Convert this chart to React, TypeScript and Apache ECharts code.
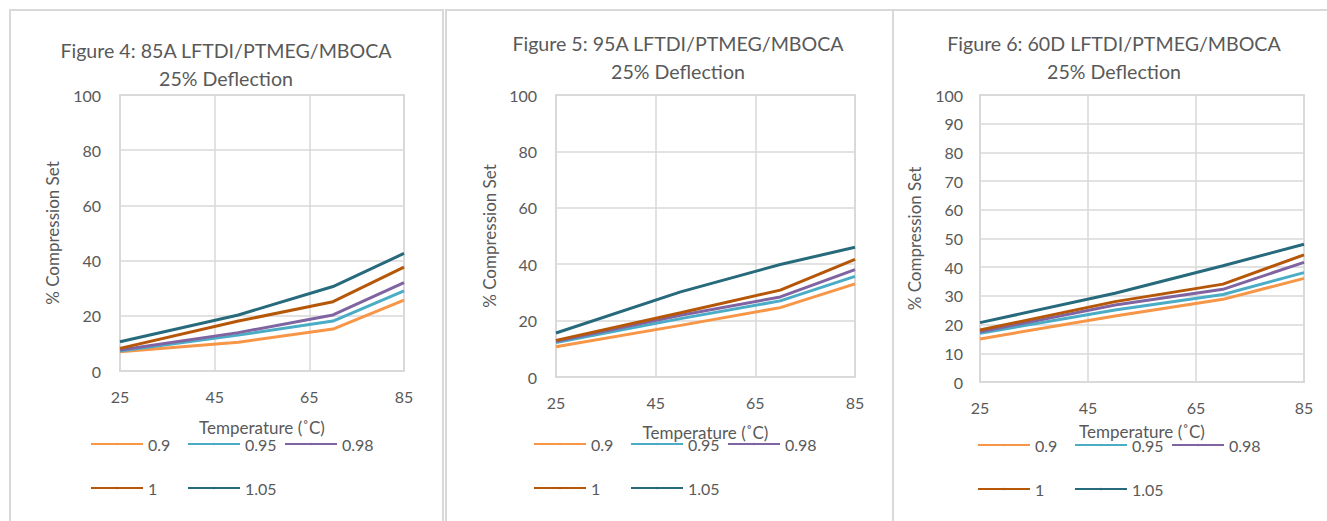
import React, { useEffect, useRef } from "react";
import * as echarts from "echarts";

const seriesNames = ["0.9", "0.95", "0.98", "1", "1.05"];
const colors = ["#F79646", "#4BACC6", "#8064A2", "#B65708", "#276A7C"];
const temperatures = [25, 50, 70, 85];

const titles = [
  "Figure 4: 85A LFTDI/PTMEG/MBOCA\n25% Deflection",
  "Figure 5: 95A LFTDI/PTMEG/MBOCA\n25% Deflection",
  "Figure 6: 60D LFTDI/PTMEG/MBOCA\n25% Deflection",
];

// values per chart, per series (0.9, 0.95, 0.98, 1, 1.05) at 25, 50, 70, 85 °C
const fig4 = [
  [7.0, 10.4, 15.2, 25.7],
  [7.2, 13.0, 18.1, 29.0],
  [7.6, 13.9, 20.3, 32.0],
  [8.2, 18.1, 25.1, 37.6],
  [10.6, 20.3, 30.6, 42.6],
];
const fig5 = [
  [10.7, 18.3, 24.6, 33.0],
  [12.2, 20.7, 27.0, 35.7],
  [12.7, 21.9, 28.4, 38.1],
  [13.0, 22.8, 30.8, 41.7],
  [15.6, 30.2, 39.9, 46.0],
];
const fig6 = [
  [15.0, 23.0, 28.8, 36.1],
  [17.0, 25.1, 30.5, 38.1],
  [17.5, 26.8, 32.3, 41.7],
  [18.1, 28.0, 34.1, 44.3],
  [20.7, 30.9, 40.5, 48.0],
];
const yIntervals = [20, 20, 10];
const xAxisName = "Temperature (˚C)";
const yAxisName = "% Compression Set";

const FONT = "Lato, 'Open Sans', sans-serif";
const TXT = "#595959";
const GRID = "#D9D9D9";

const layouts = [
  { box: [10, 10, 433], titleX: 226, titleTop: 36, grid: [120, 95, 284, 276], xGap: 48, yGap: 59, legendLeft: 90, legendTops: [436, 480] },
  { box: [446, 10, 447], titleX: 678, titleTop: 29, grid: [556, 95, 299, 282], xGap: 47, yGap: 58, legendLeft: 533, legendTops: [436, 480] },
  { box: [893, 10, 500], titleX: 1114, titleTop: 29, grid: [980, 95, 324, 287], xGap: 41, yGap: 57, legendLeft: 977, legendTops: [437, 481] },
];
const legendStep = 97;

export default function App() {
  const ref = useRef<HTMLDivElement>(null);
  useEffect(() => {
    if (!ref.current) return;
    const chart = echarts.init(ref.current, undefined, { renderer: "svg" });
    const data = [fig4, fig5, fig6];
    const title: any[] = [];
    const grid: any[] = [];
    const xAxis: any[] = [];
    const yAxis: any[] = [];
    const series: any[] = [];
    const legend: any[] = [];
    const graphic: any[] = [];
    layouts.forEach((L, i) => {
      graphic.push({
        type: "rect",
        shape: { x: L.box[0], y: L.box[1], width: L.box[2], height: 600 },
        style: { fill: "none", stroke: GRID, lineWidth: 2 },
        z: -1,
      });
      title.push({
        text: titles[i],
        left: L.titleX,
        top: L.titleTop,
        textAlign: "center",
        padding: 0,
        textStyle: { fontFamily: FONT, fontSize: 19.6, fontWeight: "normal", color: TXT, lineHeight: 28 },
      });
      grid.push({
        left: L.grid[0],
        top: L.grid[1],
        width: L.grid[2],
        height: L.grid[3],
        show: true,
        borderColor: GRID,
        borderWidth: 2,
        backgroundColor: "transparent",
      });
      xAxis.push({
        type: "value",
        gridIndex: i,
        min: 25,
        max: 85,
        interval: 20,
        name: xAxisName,
        nameLocation: "middle",
        nameGap: L.xGap,
        nameTextStyle: { fontFamily: FONT, fontSize: 17, color: TXT },
        axisLine: { show: true, lineStyle: { color: GRID, width: 2 } },
        axisTick: { show: false },
        axisLabel: { fontFamily: FONT, fontSize: 16, color: TXT, margin: 17 },
        splitLine: { show: true, lineStyle: { color: GRID, width: 1.5 } },
      });
      yAxis.push({
        type: "value",
        gridIndex: i,
        min: 0,
        max: 100,
        interval: yIntervals[i],
        name: yAxisName,
        nameLocation: "middle",
        nameGap: L.yGap,
        nameTextStyle: { fontFamily: FONT, fontSize: 17, color: TXT },
        axisLine: { show: false },
        axisTick: { show: false },
        axisLabel: { fontFamily: FONT, fontSize: 16, color: TXT, margin: i === 2 ? 17 : 19 },
        splitLine: { show: true, lineStyle: { color: GRID, width: 1.5 } },
      });
      seriesNames.forEach((name, s) => {
        series.push({
          type: "line",
          name,
          xAxisIndex: i,
          yAxisIndex: i,
          data: temperatures.map((t, k) => [t, data[i][s][k]]),
          symbol: "none",
          showSymbol: false,
          lineStyle: { color: colors[s], width: 3 },
          itemStyle: { color: colors[s] },
        });
        const row = s < 3 ? 0 : 1;
        const col = s < 3 ? s : s - 3;
        legend.push({
          data: [name],
          left: L.legendLeft + legendStep * col,
          top: L.legendTops[row],
          orient: "horizontal",
          padding: 0,
          itemWidth: 52,
          itemHeight: 3,
          selectedMode: false,
          textStyle: { fontFamily: FONT, fontSize: 16, color: TXT },
        });
      });
    });
    chart.setOption({
      animation: false,
      backgroundColor: "#ffffff",
      title,
      grid,
      xAxis,
      yAxis,
      series,
      legend,
      graphic,
    });
    return () => chart.dispose();
  }, []);
  return (
    <div
      ref={ref}
      style={{ position: "fixed", left: 0, top: 0, width: 1327, height: 521 }}
    />
  );
}
